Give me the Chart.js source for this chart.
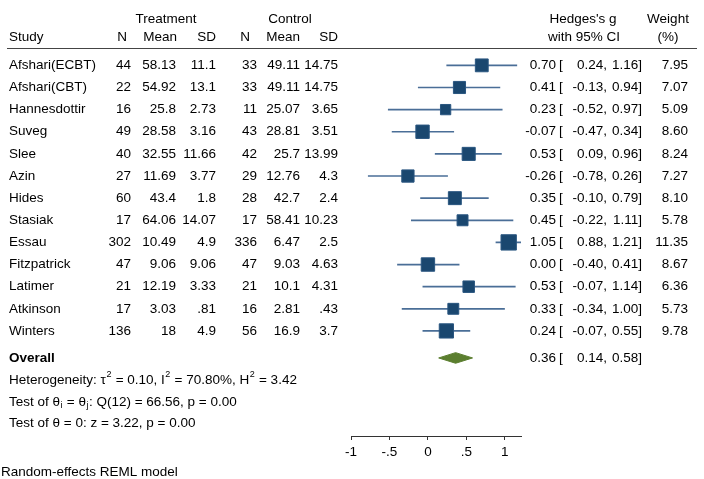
<!DOCTYPE html>
<html>
<head>
<meta charset="utf-8">
<script src="https://cdn.jsdelivr.net/npm/chart.js@4/dist/chart.umd.min.js"></script>
<style>
  html, body { margin: 0; padding: 0; background: #fff; }
  #wrap { width: 704px; height: 479px; }
</style>
</head>
<body>
<div id="wrap"><canvas id="c" width="704" height="479"></canvas></div>
<script>
// ---------- data ----------
const studies   = ["Afshari(ECBT)", "Afshari(CBT)", "Hannesdottir", "Suveg", "Slee", "Azin", "Hides", "Stasiak", "Essau", "Fitzpatrick", "Latimer", "Atkinson", "Winters"];
const nTreat    = [44, 22, 16, 49, 40, 27, 60, 17, 302, 47, 21, 17, 136];
const meanTreat = [58.13, 54.92, 25.8, 28.58, 32.55, 11.69, 43.4, 64.06, 10.49, 9.06, 12.19, 3.03, 18];
const sdTreat   = [11.1, 13.1, 2.73, 3.16, 11.66, 3.77, 1.8, 14.07, 4.9, 9.06, 3.33, 0.81, 4.9];
const nCtrl     = [33, 33, 11, 43, 42, 29, 28, 17, 336, 47, 21, 16, 56];
const meanCtrl  = [49.11, 49.11, 25.07, 28.81, 25.7, 12.76, 42.7, 58.41, 6.47, 9.03, 10.1, 2.81, 16.9];
const sdCtrl    = [14.75, 14.75, 3.65, 3.51, 13.99, 4.3, 2.4, 10.23, 2.5, 4.63, 4.31, 0.43, 3.7];
const hedgesG   = [0.70, 0.41, 0.23, -0.07, 0.53, -0.26, 0.35, 0.45, 1.05, 0.00, 0.53, 0.33, 0.24];
const ciLower   = [0.24, -0.13, -0.52, -0.47, 0.09, -0.78, -0.10, -0.22, 0.88, -0.40, -0.07, -0.34, -0.07];
const ciUpper   = [1.16, 0.94, 0.97, 0.34, 0.96, 0.26, 0.79, 1.11, 1.21, 0.41, 1.14, 1.00, 0.55];
const weights   = [7.95, 7.07, 5.09, 8.60, 8.24, 7.27, 8.10, 5.78, 11.35, 8.67, 6.36, 5.73, 9.78];
const overallEffect = [0.36, 0.14, 0.58];          // g, lower, upper
const heterogeneity = [0.10, 70.80, 3.42];         // tau2, I2 (%), H2
const homogeneityTest = [12, 66.56, 0.00];          // df, Q, p
const effectTest = [3.22, 0.00];                    // z, p
const tickValues = [-1, -0.5, 0, 0.5, 1];
const tickLabels = ["-1", "-.5", "0", ".5", "1"];

// ---------- layout constants ----------
const FONT = '"Liberation Sans", Arial, Helvetica, sans-serif';
const FS = 13.5;
const SQUARE_COLOR = '#1a476f';
const CI_COLOR = '#4a6e97';
const DIAMOND_COLOR = '#5b7e2f';
const ROW_OVERALL = 13.22;
const ROW_HET = [14.21, 15.21, 16.19];
const ROW_NOTE = 18.39;
const ROW_HEAD1 = -2.07, ROW_HEAD2 = -1.28, ROW_RULE = -0.77;
const DIAMOND_HALF = 0.24;

const fmtNum = v => String(v).replace(/^0\./, '.').replace(/^-0\./, '-.');
const f2 = v => v.toFixed(2);

// ---------- datasets ----------
const datasets = [];
datasets.push({
  label: 'g',
  data: hedgesG.map((g, i) => ({ x: g, y: i })),
  pointStyle: 'rect',
  pointRadius: ctx => 3.22 * Math.sqrt(weights[ctx.dataIndex]),
  pointHoverRadius: ctx => 3.22 * Math.sqrt(weights[ctx.dataIndex]),
  backgroundColor: SQUARE_COLOR,
  borderColor: '#2a5680',
  borderWidth: 1,
  showLine: false,
  order: 0
});
studies.forEach((s, i) => {
  datasets.push({
    label: s,
    data: [{ x: ciLower[i], y: i }, { x: ciUpper[i], y: i }],
    showLine: true,
    pointRadius: 0,
    borderColor: CI_COLOR,
    borderWidth: 1.7,
    order: 2
  });
});
datasets.push({
  label: 'Overall',
  data: [
    { x: overallEffect[1], y: ROW_OVERALL },
    { x: overallEffect[0], y: ROW_OVERALL - DIAMOND_HALF },
    { x: overallEffect[2], y: ROW_OVERALL },
    { x: overallEffect[0], y: ROW_OVERALL + DIAMOND_HALF },
    { x: overallEffect[1], y: ROW_OVERALL }
  ],
  showLine: true,
  fill: 'shape',
  backgroundColor: DIAMOND_COLOR,
  borderColor: DIAMOND_COLOR,
  borderWidth: 1,
  pointRadius: 0,
  tension: 0,
  order: 1
});

// ---------- text plugin ----------
function txt(ctx, s, x, y, align, bold) {
  ctx.font = (bold ? 'bold ' : '') + FS + 'px ' + FONT;
  ctx.textAlign = align || 'left';
  ctx.textBaseline = 'middle';
  ctx.fillStyle = '#000';
  ctx.fillText(s, x, y);
}
function rich(ctx, x, y, segs) {
  ctx.textAlign = 'left';
  ctx.textBaseline = 'middle';
  ctx.fillStyle = '#000';
  let cx = x;
  segs.forEach(([s, mode]) => {
    if (mode === 0) {
      ctx.font = FS + 'px ' + FONT;
      ctx.fillText(s, cx, y);
    } else {
      ctx.font = '9px ' + FONT;
      ctx.fillText(s, cx + 0.5, mode > 0 ? y - 5 : y + 4);
    }
    cx += ctx.measureText(s).width + (mode === 0 ? 0 : 1);
  });
}

const tablePlugin = {
  id: 'table',
  afterDraw(chart) {
    const ctx = chart.ctx;
    const ys = chart.scales.y;
    const yp = v => ys.getPixelForValue(v);
    ctx.save();
    // headers
    txt(ctx, 'Treatment', 166, yp(ROW_HEAD1), 'center');
    txt(ctx, 'Control', 290, yp(ROW_HEAD1), 'center');
    txt(ctx, "Hedges's g", 583, yp(ROW_HEAD1), 'center');
    txt(ctx, 'Weight', 668, yp(ROW_HEAD1), 'center');
    txt(ctx, 'Study', 9, yp(ROW_HEAD2), 'left');
    txt(ctx, 'N', 122, yp(ROW_HEAD2), 'center');
    txt(ctx, 'Mean', 177, yp(ROW_HEAD2), 'right');
    txt(ctx, 'SD', 216, yp(ROW_HEAD2), 'right');
    txt(ctx, 'N', 245, yp(ROW_HEAD2), 'center');
    txt(ctx, 'Mean', 300, yp(ROW_HEAD2), 'right');
    txt(ctx, 'SD', 338, yp(ROW_HEAD2), 'right');
    txt(ctx, 'with 95% CI', 584, yp(ROW_HEAD2), 'center');
    txt(ctx, '(%)', 668, yp(ROW_HEAD2), 'center');
    // rule
    ctx.strokeStyle = '#444';
    ctx.lineWidth = 1;
    ctx.beginPath();
    const ry = Math.round(yp(ROW_RULE)) + 0.5;
    ctx.moveTo(7, ry); ctx.lineTo(697, ry); ctx.stroke();
    // rows
    studies.forEach((s, i) => {
      const y = yp(i);
      txt(ctx, s, 9, y, 'left');
      txt(ctx, fmtNum(nTreat[i]), 131, y, 'right');
      txt(ctx, fmtNum(meanTreat[i]), 176, y, 'right');
      txt(ctx, fmtNum(sdTreat[i]), 216, y, 'right');
      txt(ctx, fmtNum(nCtrl[i]), 257, y, 'right');
      txt(ctx, fmtNum(meanCtrl[i]), 300, y, 'right');
      txt(ctx, fmtNum(sdCtrl[i]), 338, y, 'right');
      txt(ctx, f2(hedgesG[i]), 556, y, 'right');
      txt(ctx, '[', 559, y, 'left');
      txt(ctx, f2(ciLower[i]) + ',', 607, y, 'right');
      txt(ctx, f2(ciUpper[i]) + ']', 642, y, 'right');
      txt(ctx, f2(weights[i]), 688, y, 'right');
    });
    // overall
    const yo = yp(ROW_OVERALL);
    txt(ctx, 'Overall', 9, yo, 'left', true);
    txt(ctx, f2(overallEffect[0]), 556, yo, 'right');
    txt(ctx, '[', 559, yo, 'left');
    txt(ctx, f2(overallEffect[1]) + ',', 607, yo, 'right');
    txt(ctx, f2(overallEffect[2]) + ']', 642, yo, 'right');
    // stats
    rich(ctx, 9, yp(ROW_HET[0]), [
      ['Heterogeneity: \u03c4', 0], ['2', 1],
      [' = ' + f2(heterogeneity[0]) + ', I', 0], ['2', 1],
      [' = ' + f2(heterogeneity[1]) + '%, H', 0], ['2', 1],
      [' = ' + f2(heterogeneity[2]), 0]
    ]);
    rich(ctx, 9, yp(ROW_HET[1]), [
      ['Test of \u03b8', 0], ['i', -1], [' = \u03b8', 0], ['j', -1],
      [': Q(' + homogeneityTest[0] + ') = ' + f2(homogeneityTest[1]) + ', p = ' + f2(homogeneityTest[2]), 0]
    ]);
    rich(ctx, 9, yp(ROW_HET[2]), [
      ['Test of \u03b8 = 0: z = ' + f2(effectTest[0]) + ', p = ' + f2(effectTest[1]), 0]
    ]);
    txt(ctx, 'Random-effects REML model', 1, yp(ROW_NOTE), 'left');
    ctx.restore();
  }
};

new Chart(document.getElementById('c'), {
  type: 'scatter',
  data: { datasets },
  options: {
    responsive: false,
    devicePixelRatio: 1,
    animation: false,
    events: [],
    layout: { padding: { left: 351, right: 183, top: 0, bottom: 0 } },
    plugins: { legend: { display: false }, tooltip: { enabled: false } },
    scales: {
      x: {
        type: 'linear',
        min: -1,
        max: 1.21,
        afterFit: s => { s.height = 43; },
        afterBuildTicks: s => { s.ticks = tickValues.map(v => ({ value: v })); },
        ticks: {
          callback: (v) => tickLabels[tickValues.indexOf(v)],
          font: { family: FONT, size: FS },
          color: '#000',
          padding: 4,
          maxRotation: 0
        },
        grid: { display: true, drawOnChartArea: false, drawTicks: true, tickLength: 4, color: '#333', lineWidth: 1 },
        border: { display: true, color: '#333', width: 1 }
      },
      y: {
        type: 'linear',
        display: false,
        reverse: true,
        min: -2.4176,
        max: 16.747
      }
    }
  },
  plugins: [tablePlugin]
});
</script>
</body>
</html>
